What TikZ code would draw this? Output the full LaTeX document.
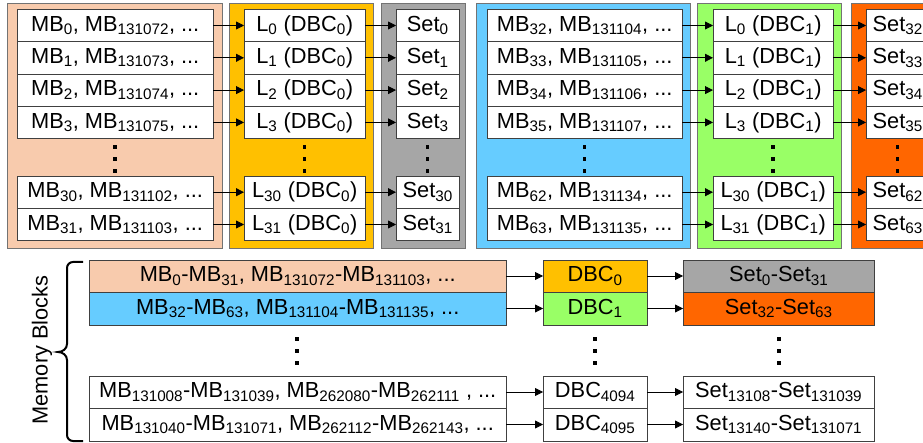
\documentclass[tikz,border=0pt]{standalone}
\usepackage{fontspec}
\setmainfont{Liberation Sans}
\usetikzlibrary{arrows.meta}
\definecolor{peach}{HTML}{F8CBAD}
\definecolor{gold}{HTML}{FFC000}
\definecolor{setgray}{HTML}{A6A6A6}
\definecolor{sky}{HTML}{66CCFF}
\definecolor{lime}{HTML}{99FF66}
\definecolor{tangerine}{HTML}{FF6600}
\newcommand\ix[1]{\textsubscript{#1}}
\begin{document}
\begin{tikzpicture}[x=1pt,y=-1pt,
	font=\fontsize{21.8}{25}\selectfont,
	cell/.style={draw=black!75,fill=white,anchor=west,inner sep=0pt,minimum height=32.3pt},
	panel/.style={draw=black!55,line width=0.8pt},
	arr/.style={-{Triangle[length=8pt,width=8pt]},line width=0.8pt}]
			\clip (0,0) rectangle (923,443);
			%top panels
			\draw[panel,fill=peach] (7,3) rectangle (222,248);
			\draw[panel,fill=gold] (229,3) rectangle (373,248);
			\draw[panel,fill=setgray] (381,3) rectangle (465,248);
			\draw[panel,fill=sky] (476,3) rectangle (690,248);
			\draw[panel,fill=lime] (697,3) rectangle (841,248);
			\draw[panel,fill=tangerine] (851,3) rectangle (940,248);
			
			\foreach \r/\y in {0/25.5, 1/57.8, 2/90.1, 3/122.4, 30/192.2, 31/224.5}{
				\node[cell,minimum width=196pt] (mbA\r) at (17,\y) {MB\ix{\r}, MB\ix{\the\numexpr131072+\r\relax}, ...};
				\node[cell,minimum width=121pt] (lA\r) at (244,\y) {L\ix{\r} (DBC\ix{0})};
				\node[cell,minimum width=63pt] (sA\r) at (396,\y) {Set\ix{\r}};
				\draw[arr] (mbA\r.east) -- (lA\r.west);
				\draw[arr] (lA\r.east) -- (sA\r.west);
				
				\node[cell,minimum width=195pt] (mbB\r) at (487,\y) {MB\ix{\the\numexpr32+\r\relax}, MB\ix{\the\numexpr131104+\r\relax}, ...};
				\node[cell,minimum width=120pt] (lB\r) at (713,\y) {L\ix{\r} (DBC\ix{1})};
				\node[cell,minimum width=63pt] (sB\r) at (866,\y) {Set\ix{\the\numexpr32+\r\relax}};
				\draw[arr] (mbB\r.east) -- (lB\r.west);
				\draw[arr] (lB\r.east) -- (sB\r.west);
			}
			\foreach \x in {115, 304.5, 427.5, 584.5, 773, 897.5}{
				\foreach \k in {0, 1, 2}{
					\fill (\x-1.8, 145.5+12*\k) rectangle ++(3.6, 3.6);
				}
			}
			
			%bottom table
			\node[cell,minimum width=417pt,minimum height=32.5pt,fill=peach] (bm1) at (89,276) {MB\ix{0}-MB\ix{31}, MB\ix{131072}-MB\ix{131103}, ...};
			\node[cell,minimum width=417pt,minimum height=32.5pt,fill=sky] (bm2) at (89,308.5) {MB\ix{32}-MB\ix{63}, MB\ix{131104}-MB\ix{131135}, ...};
			\node[cell,minimum width=417pt,minimum height=32.5pt] (bm3) at (89,392) {MB\ix{131008}-MB\ix{131039}, MB\ix{262080}-MB\ix{262111} , ...};
			\node[cell,minimum width=417pt,minimum height=32.5pt] (bm4) at (89,424.5) {MB\ix{131040}-MB\ix{131071}, MB\ix{262112}-MB\ix{262143}, ...};
			
			\node[cell,minimum width=104pt,minimum height=32.5pt,fill=gold] (bd1) at (543,276) {DBC\ix{0}};
			\node[cell,minimum width=104pt,minimum height=32.5pt,fill=lime] (bd2) at (543,308.5) {DBC\ix{1}};
			\node[cell,minimum width=104pt,minimum height=32.5pt] (bd3) at (543,392) {DBC\ix{4094}};
			\node[cell,minimum width=104pt,minimum height=32.5pt] (bd4) at (543,424.5) {DBC\ix{4095}};
			
			\node[cell,minimum width=191pt,minimum height=32.5pt,fill=setgray] (bs1) at (683,276) {Set\ix{0}-Set\ix{31}};
			\node[cell,minimum width=191pt,minimum height=32.5pt,fill=tangerine] (bs2) at (683,308.5) {Set\ix{32}-Set\ix{63}};
			\node[cell,minimum width=191pt,minimum height=32.5pt] (bs3) at (683,392) {Set\ix{13108}-Set\ix{131039}};
			\node[cell,minimum width=191pt,minimum height=32.5pt] (bs4) at (683,424.5) {Set\ix{13140}-Set\ix{131071}};
			
			\foreach \i in {1, 2, 3, 4}{
				\draw[arr] (bm\i.east) -- (bd\i.west);
				\draw[arr] (bd\i.east) -- (bs\i.west);
			}
			\foreach \x in {297, 595, 779}{
				\foreach \k in {0, 1, 2}{
					\fill (\x-2, 337+12*\k) rectangle ++(4, 4);
				}
			}
			
			%brace
			\coordinate (braceTop) at (83,262);
			\coordinate (braceTip) at (58,352);
			\coordinate (braceBot) at (83,441);
			\draw[line width=2pt] (braceTop) -- (73,262) to[out=180,in=90] (67,268) -- (67,344)
				to[out=-90,in=0] (braceTip) to[out=0,in=90] (67,360) -- (67,435) to[out=-90,in=180] (73,441) -- (braceBot);
			\node[rotate=90] (memLabel) at (42,350) {Memory Blocks};
		\end{tikzpicture}
\end{document}
